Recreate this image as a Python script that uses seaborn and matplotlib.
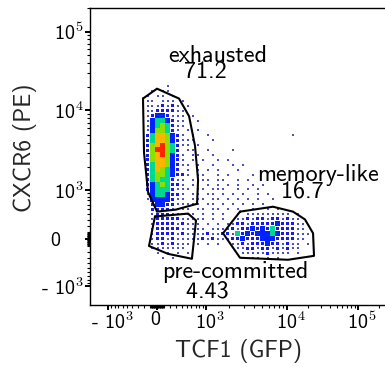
import numpy as np
import pandas as pd
import matplotlib
matplotlib.use("Agg")
import matplotlib.pyplot as plt
import seaborn as sns
from matplotlib.transforms import ScaledTranslation

sns.set_style("white")
plt.rcParams["font.family"] = ["cmss10", "Liberation Sans", "DejaVu Sans"]
plt.rcParams["mathtext.fontset"] = "cm"
plt.rcParams["axes.unicode_minus"] = False

# ---------------- data ----------------
X_LABEL = "TCF1 (GFP)"
Y_LABEL = "CXCR6 (PE)"
TICK_VALUES = [-1e3, 0, 1e3, 1e4, 1e5]
TICK_LABELS = ["- 10$^{3}$", "0", "10$^{3}$", "10$^{4}$", "10$^{5}$"]

GATE_NAMES = ["exhausted", "memory-like", "pre-committed"]
GATE_PCT = ["71.2", "16.7", "4.43"]

# gate polygons (fluorescence units)
EXH_X = [-212, 0, 347, 546, 684, 764, 737, 295, 0, -134, -196]
EXH_Y = [14130, 18850, 14130, 8467, 3670, 1353, 617, 490, 449, 936, 3016]
MEM_X = [2696, 6778, 12150, 17930, 23280, 24020, 10330, 2696, 1661]
MEM_Y = [449, 551, 449, 305, 87, -267, -337, -301, 87]
PRE_X = [-30, 525, 710, 610, 165, -119, -74]
PRE_Y = [357, 411, 288, -319, -233, -106, 117]

# density levels (0 = empty ... 7 = highest), binned on the display scale
DENSITY_ROWS = [
    ".... .1.. .... .... .... .... .... .... ....",
    "..1. 11.. .... .... .... .... .... .... ....",
    ".1.1 1.1. .... .... .... .... .... .... ....",
    ".11. 111. 1... .... .... .... .... .... ....",
    ".111 2121 .1.. .... .... .... .... .... ....",
    ".112 2221 1... .... .... .... .... .... ....",
    ".123 3211 1.1. .... .... .... .... .... ....",
    ".134 4321 1..1 .... .... .... .... .... ....",
    ".134 5421 1... .... .... .... .... .... ....",
    ".135 5421 .1.1 .... .... .... .... .... ....",
    ".246 6532 1.1. .1.. .... .... .... ..1. ....",
    ".246 6532 111. ..1. .... .... .... .... ....",
    ".256 7542 11.1 .... .... .... .... .... ....",
    ".257 7542 .11. .1.. ..1. .... .... .... ....",
    ".256 7532 1.11 ..1. .... .... .... .... ....",
    ".256 6532 1.1. 1..1 .1.. .... .... .... ....",
    ".246 6532 11.1 ..1. ..1. 1... .... .... ....",
    ".246 5432 .1.1 .1.1 ...1 .... .... .... ....",
    ".245 5432 21.1 1..1 .1.. ..1. .... .... ....",
    ".245 4421 1.1. 11.1 1..1 .1.. .... .... ....",
    ".234 5422 1.1. .1.1 .1.1 ..1. 1... .... ....",
    ".234 4421 11.1 1.11 1..1 .1.1 .... .... ....",
    ".134 4322 1.11 .11. 1.1. 1..1 .1.. .... ....",
    ".133 3321 1.11 1.11 .1.1 .1.1 ..1. .... ....",
    "..23 3221 1111 .11. 1.1. 1.1. 1... .... ....",
    "..22 2211 11.1 1.11 .1.1 ..1. .1.1 .... ....",
    "..12 2211 .11. 1.1. 1..1 .111 1111 11.1 ....",
    "..12 2222 1111 1.1. 1..1 1212 2122 1211 ....",
    "..12 2221 2111 .1.1 .112 2122 2223 2221 1...",
    "..12 2222 1111 1.11 1121 2232 3242 2221 1...",
    "..12 2221 2111 1211 2214 2323 3343 2221 11..",
    "..12 2121 1111 2121 1122 3222 3332 2221 1...",
    "..11 2121 11.1 .1.1 ..11 2122 2322 1211 .1..",
    "..11 1111 1... .... ...1 1221 2212 1211 ....",
    "...1 .1.1 .1.. .... .... 1111 1211 11.1 ....",
    ".... 1.1. .... .... .... ..11 .1.1 .... ....",
]

LEVEL_COLORS = {1: "#4a4fc4", 2: "#1818f0", 3: "#0022ff", 4: "#00d890",
                5: "#8ce000", 6: "#ffb400", 7: "#ff2400"}

# ---------------- axis scale (biexponential display) ----------------
C = 500.0
X_KNOT_POS = [-49, 0, 49, 130, 201]
Y_KNOT_POS = [-48, 0, 50, 131, 211]


def interp_ext(x, xp, fp):
    x = np.asarray(x, float)
    xp = np.asarray(xp, float)
    fp = np.asarray(fp, float)
    y = np.interp(x, xp, fp)
    y = np.where(x < xp[0], fp[0] + (x - xp[0]) * (fp[1] - fp[0]) / (xp[1] - xp[0]), y)
    y = np.where(x > xp[-1], fp[-1] + (x - xp[-1]) * (fp[-1] - fp[-2]) / (xp[-1] - xp[-2]), y)
    return y


def make_scale(knot_pos):
    ku = np.arcsinh(np.asarray(TICK_VALUES, float) / C)

    def fwd(v):
        return interp_ext(np.arcsinh(np.asarray(v, float) / C), ku, knot_pos)

    def inv(p):
        return C * np.sinh(interp_ext(p, knot_pos, ku))

    return fwd, inv


xfwd, xinv = make_scale(X_KNOT_POS)
yfwd, yinv = make_scale(Y_KNOT_POS)

# ---------------- build density table ----------------
CELL = 5.0
X0_POS, Y0_POS = -14.5, 155.5
recs = []
for j, row in enumerate(DENSITY_ROWS):
    row = row.replace(" ", "")
    for i, ch in enumerate(row):
        if ch != ".":
            recs.append((float(xinv(X0_POS + CELL * i)), float(yinv(Y0_POS - CELL * j)), int(ch)))
dens = pd.DataFrame(recs, columns=["x", "y", "level"])

# ---------------- figure ----------------
W, H = 385, 367
fig = plt.figure(figsize=(W / 100, H / 100), dpi=100)
ax = fig.add_axes([90 / W, (H - 305) / H, (392 - 90) / W, (305 - 8) / H])
ax.set_xscale("function", functions=(xfwd, xinv))
ax.set_yscale("function", functions=(yfwd, yinv))

px = 0.72  # points per pixel
sizes = {1: (2.0 * px) ** 2, 2: (3.0 * px) ** 2, 3: (5.0 * px) ** 2, 4: (5.4 * px) ** 2,
         5: (5.4 * px) ** 2, 6: (5.4 * px) ** 2, 7: (5.4 * px) ** 2}
sns.scatterplot(data=dens, x="x", y="y", hue="level", size="level", palette=LEVEL_COLORS,
                sizes=sizes, marker="s", linewidth=0, legend=False, ax=ax, zorder=2)

for gx, gy in [(EXH_X, EXH_Y), (MEM_X, MEM_Y), (PRE_X, PRE_Y)]:
    ax.plot(list(gx) + [gx[0]], list(gy) + [gy[0]], color="black", lw=1.5, zorder=3)

ax.set_xlim(float(xinv(-67)), float(xinv(235)))
ax.set_ylim(float(yinv(-67)), float(yinv(230)))

# ticks
minor = []
for k in (1, 2):
    for m in range(1, 10):
        minor += [m * 10 ** k, -m * 10 ** k]
for k in (3, 4):
    for m in range(2, 10):
        minor.append(m * 10 ** k)
minor.append(2e5)
for axis in (ax.xaxis, ax.yaxis):
    axis.set_ticks(TICK_VALUES)
    axis.set_ticklabels(TICK_LABELS)
    axis.set_ticks(minor, minor=True)
    axis.set_minor_formatter(matplotlib.ticker.NullFormatter())
ax.tick_params(which="major", direction="out", length=3.6, width=1.4, labelsize=14.5,
               colors="black", pad=1)
ax.tick_params(which="minor", direction="out", length=2.2, width=0.8, colors="black")
ax.tick_params(axis="x", which="both", bottom=True, top=False)
ax.tick_params(axis="y", which="both", left=True, right=False)

for sp in ax.spines.values():
    sp.set_linewidth(1.0)
    sp.set_color("black")

# tick label nudges
for lab, v in zip(ax.get_xticklabels(), TICK_VALUES):
    dx = -2 if v == 0 else 4
    lab.set_transform(lab.get_transform() + ScaledTranslation(dx / 100, 0, fig.dpi_scale_trans))
for lab, v in zip(ax.get_yticklabels(), TICK_VALUES):
    dx = -23 if v == 0 else 0
    lab.set_transform(lab.get_transform() + ScaledTranslation(dx / 100, 0, fig.dpi_scale_trans))

ax.set_xlabel(X_LABEL, fontsize=17)
ax.set_ylabel(Y_LABEL, fontsize=17)
ax.xaxis.set_label_coords(0.4917, -0.1145)
ax.yaxis.set_label_coords(-0.1755, 0.5286)

# gate annotations: name with its percentage below
ann = dict(transform=ax.transAxes, ha="left", va="top", multialignment="left",
           fontsize=17.3, color="black")
ax.text(0.2583, 0.8744, GATE_NAMES[0] + "\n  " + GATE_PCT[0], linespacing=0.62, **ann)
ax.text(0.5530, 0.4737, GATE_NAMES[1] + "\n   " + GATE_PCT[1], linespacing=0.68, **ann)
ax.text(0.2384, 0.1471, GATE_NAMES[2] + "\n   " + GATE_PCT[2], linespacing=0.86, **ann)

fig.savefig("out.png", dpi=100)
